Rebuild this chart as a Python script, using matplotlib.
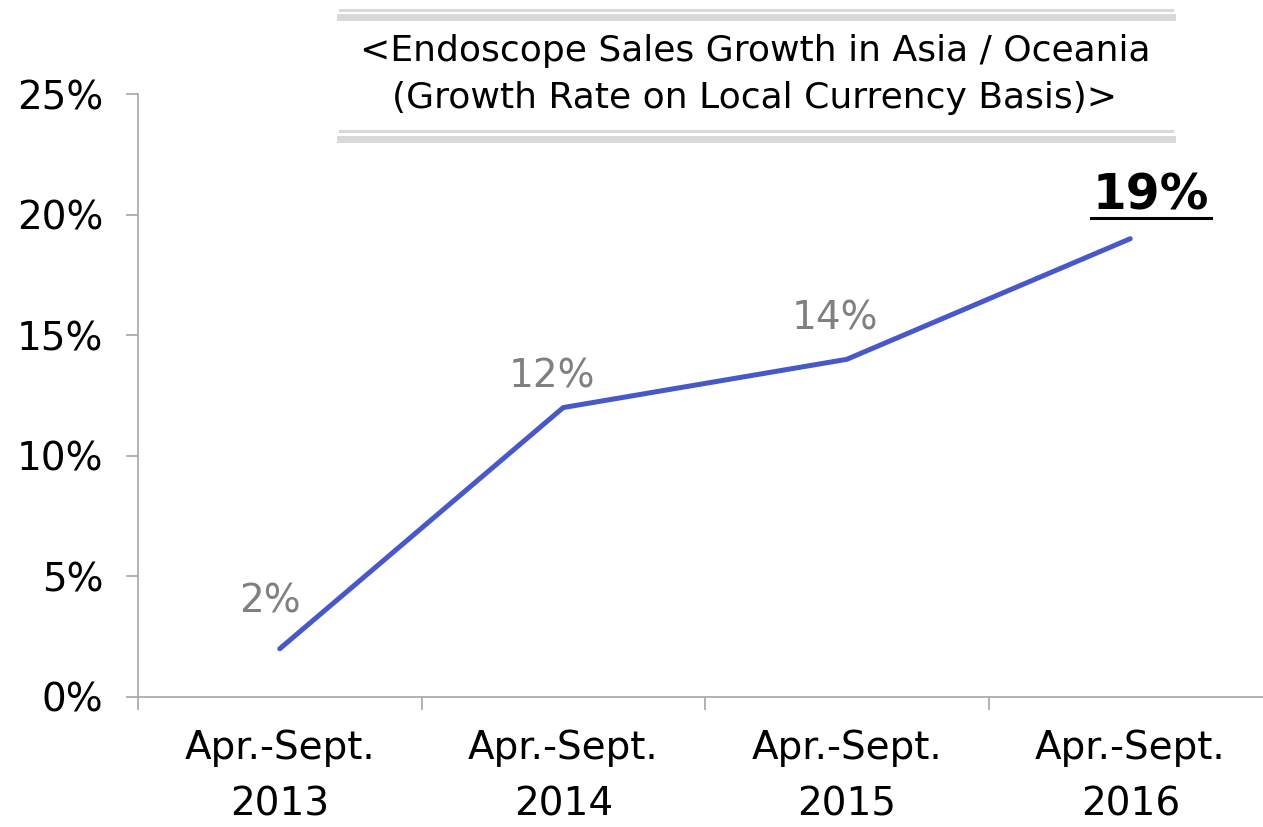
import matplotlib
matplotlib.use("Agg")
import matplotlib.pyplot as plt
from matplotlib.lines import Line2D
from matplotlib.ticker import FixedLocator

# data
periods = ["Apr.-Sept.\n2013", "Apr.-Sept.\n2014", "Apr.-Sept.\n2015", "Apr.-Sept.\n2016"]
growth = [2, 12, 14, 19]
yticks = [0, 5, 10, 15, 20, 25]
title_lines = ["<Endoscope Sales Growth in Asia / Oceania",
               "(Growth Rate on Local Currency Basis)>"]

W, H = 1263, 827
fig = plt.figure(figsize=(W / 100, H / 100), dpi=100)
ax = fig.add_axes([138 / W, 1 - 697 / H, (1272 - 138) / W, (697 - 94) / H])

x = list(range(len(growth)))
ax.plot(x, growth, color="#4858C8", lw=3.6, solid_capstyle="round", clip_on=False)
ax.set_xlim(-0.5, len(growth) - 0.5)
ax.set_ylim(0, 25)

axis_col = "#A6A6A6"
for s in ["top", "right"]:
    ax.spines[s].set_visible(False)
for s in ["left", "bottom"]:
    ax.spines[s].set_color(axis_col)
    ax.spines[s].set_linewidth(1.2)

ax.set_yticks(yticks)
ax.set_yticklabels([f"{v}%" for v in yticks], fontsize=28, family="DejaVu Sans")
ax.tick_params(axis="y", length=9, width=1.2, color=axis_col, pad=16)

ax.set_xticks(x)
ax.set_xticklabels(periods, fontsize=28, family="DejaVu Sans", linespacing=1.62)
ax.tick_params(axis="x", which="major", length=0, pad=23)
ax.xaxis.set_minor_locator(FixedLocator([i - 0.5 for i in range(len(growth))]))
ax.tick_params(axis="x", which="minor", length=9, width=1.2, color=axis_col)

# data labels (grey), offsets in pixels from the point
offsets = [(-10, 47), (-11, 31), (-12, 41)]
for i, v in enumerate(growth[:-1]):
    ax.annotate(f"{v}%", (i, v), xytext=(offsets[i][0] * 0.72, offsets[i][1] * 0.72),
                textcoords="offset points", ha="center", va="center",
                fontsize=28, color="#808080", family="DejaVu Sans")

last = ax.annotate(f"{growth[-1]}%", (x[-1], growth[-1]), xytext=(21 * 0.72, 43 * 0.72),
                   textcoords="offset points", ha="center", va="center",
                   fontsize=35, fontweight="bold", color="black", family="DejaVu Sans")

# title with double grey rules
for y0, y1 in [(10, 15), (131, 137)]:
    fig.add_artist(Line2D([340 / W, 1172 / W], [1 - y0 / H] * 2, color="#D9D9D9", lw=2.2))
    fig.add_artist(Line2D([340 / W, 1172 / W], [1 - (y1 + 2) / H] * 2, color="#D9D9D9", lw=5))
fig.text(755 / W, 1 - 51 / H, title_lines[0], ha="center", va="center", fontsize=26,
         family="DejaVu Sans")
fig.text(755 / W, 1 - 98 / H, title_lines[1], ha="center", va="center", fontsize=26,
         family="DejaVu Sans")

# underline under the last label
fig.canvas.draw()
bb = last.get_window_extent(fig.canvas.get_renderer())
fig.add_artist(Line2D([(bb.x0 - 2) / W, (bb.x1 + 2) / W], [(bb.y0 + 2) / H] * 2,
                      color="black", lw=2.2))

fig.savefig("out.png", dpi=100)
